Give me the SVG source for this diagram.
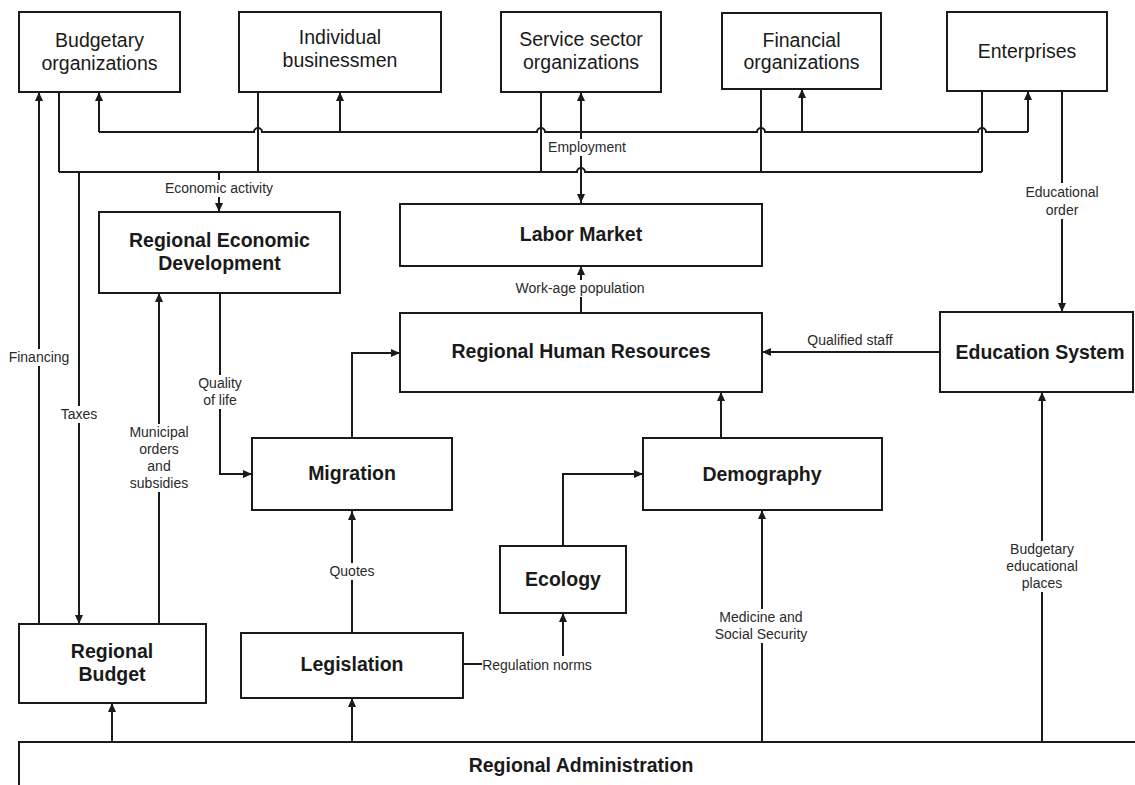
<svg xmlns="http://www.w3.org/2000/svg" width="1135" height="785" viewBox="0 0 1135 785">
<defs>
<marker id="arr" markerUnits="userSpaceOnUse" markerWidth="9" markerHeight="8" refX="9" refY="4" orient="auto-start-reverse" viewBox="0 0 9 8">
<path d="M0,0 L9,4 L0,8 z" fill="#1a1a1a"/>
</marker>
<style>
.box{fill:#fff;stroke:#1a1a1a;stroke-width:2}
.ln{fill:none;stroke:#1a1a1a;stroke-width:2}
.a{marker-end:url(#arr)}
.bg{fill:#fff}
.t{font-family:"Liberation Sans",Arial,sans-serif;font-size:19.5px;fill:#1a1a1a;text-anchor:middle}
.b{font-weight:bold}
.s{font-family:"Liberation Sans",Arial,sans-serif;font-size:14px;fill:#2a2a2a;text-anchor:middle}
</style>
</defs>
<rect width="1135" height="785" fill="#fff"/>

<g id="connectors">
<!-- upper distribution line with hops -->
<path class="ln" d="M99,132 H254 a4,4 0 0 1 8,0 H537 a4,4 0 0 1 8,0 H757 a4,4 0 0 1 8,0 H978 a4,4 0 0 1 8,0 H1028"/>
<path class="ln a" d="M99,132 V92"/>
<path class="ln a" d="M340,132 V92"/>
<path class="ln a" d="M802,132 V89"/>
<path class="ln a" d="M1028,132 V91"/>
<!-- employment double arrow -->
<path class="ln a" d="M581,203 V92" style="marker-start:url(#arr)"/>
<!-- lower collection line with hop -->
<path class="ln" d="M59,172 H577 a4,4 0 0 1 8,0 H982"/>
<path class="ln" d="M59,92 V172"/>
<path class="ln" d="M258,92 V172"/>
<path class="ln" d="M541,92 V172"/>
<path class="ln" d="M761,89 V172"/>
<path class="ln" d="M982,91 V172"/>
<path class="ln a" d="M219,172 V212"/>
<path class="ln a" d="M79,172 V624"/>
<!-- financing -->
<path class="ln a" d="M39,624 V92"/>
<!-- municipal orders -->
<path class="ln a" d="M159,624 V293"/>
<!-- quality of life -->
<path class="ln a" d="M220,293 V474 H252"/>
<!-- migration to RHR -->
<path class="ln a" d="M352,438 V353 H400"/>
<!-- quotes -->
<path class="ln a" d="M352,633 V511"/>
<!-- work-age -->
<path class="ln a" d="M581,313 V266"/>
<!-- educational order -->
<path class="ln a" d="M1062,91 V312"/>
<!-- qualified staff -->
<path class="ln a" d="M940,352 H762"/>
<!-- demography to RHR -->
<path class="ln a" d="M721,438 V392"/>
<!-- ecology to demography -->
<path class="ln a" d="M563,546 V474 H643"/>
<!-- regulation norms -->
<path class="ln a" d="M463,664 H563 V613"/>
<!-- medicine -->
<path class="ln a" d="M762,742 V510"/>
<!-- budgetary educational places -->
<path class="ln a" d="M1042,742 V392"/>
<!-- admin to budget / legislation -->
<path class="ln a" d="M112,742 V703"/>
<path class="ln a" d="M352,742 V698"/>

<rect class="bg" x="164" y="180" width="110" height="17"/>
<rect class="bg" x="548" y="139" width="78" height="17"/>
<rect class="bg" x="1022" y="183" width="80" height="36"/>
<rect class="bg" x="514" y="280" width="132" height="17"/>
<rect class="bg" x="8" y="349" width="62" height="17"/>
<rect class="bg" x="59" y="406" width="40" height="17"/>
<rect class="bg" x="196" y="375" width="48" height="34"/>
<rect class="bg" x="127" y="424" width="64" height="68"/>
<rect class="bg" x="327" y="563" width="50" height="17"/>
<rect class="bg" x="482" y="656" width="110" height="17"/>
<rect class="bg" x="713" y="609" width="98" height="34"/>
<rect class="bg" x="1004" y="541" width="76" height="51"/>

<text class="s" x="219" y="193">Economic activity</text>
<text class="s" x="587" y="152">Employment</text>
<text class="s" x="1062" y="197">Educational</text>
<text class="s" x="1062" y="215">order</text>
<text class="s" x="580" y="293">Work-age population</text>
<text class="s" x="850" y="345">Qualified staff</text>
<text class="s" x="39" y="362">Financing</text>
<text class="s" x="79" y="419">Taxes</text>
<text class="s" x="220" y="388">Quality</text>
<text class="s" x="220" y="405">of life</text>
<text class="s" x="159" y="437">Municipal</text>
<text class="s" x="159" y="454">orders</text>
<text class="s" x="159" y="471">and</text>
<text class="s" x="159" y="488">subsidies</text>
<text class="s" x="352" y="576">Quotes</text>
<text class="s" x="537" y="670">Regulation norms</text>
<text class="s" x="761" y="622">Medicine and</text>
<text class="s" x="761" y="639">Social Security</text>
<text class="s" x="1042" y="554">Budgetary</text>
<text class="s" x="1042" y="571">educational</text>
<text class="s" x="1042" y="588">places</text>
</g>

<g id="budgetary-organizations">
<rect class="box" x="19" y="12" width="161" height="80"/>
<text class="t" x="99.5" y="47">Budgetary</text>
<text class="t" x="99.5" y="70">organizations</text>
</g>
<g id="individual-businessmen">
<rect class="box" x="239" y="12" width="202" height="80"/>
<text class="t" x="340" y="44">Individual</text>
<text class="t" x="340" y="67">businessmen</text>
</g>
<g id="service-sector">
<rect class="box" x="501" y="12" width="160" height="80"/>
<text class="t" x="581" y="46">Service sector</text>
<text class="t" x="581" y="69">organizations</text>
</g>
<g id="financial-organizations">
<rect class="box" x="722" y="13" width="159" height="76"/>
<text class="t" x="801.5" y="47">Financial</text>
<text class="t" x="801.5" y="69">organizations</text>
</g>
<g id="enterprises">
<rect class="box" x="947" y="12" width="160" height="79"/>
<text class="t" x="1027" y="58">Enterprises</text>
</g>
<g id="regional-economic-development">
<rect class="box" x="99" y="212" width="241" height="81"/>
<text class="t b" x="219.5" y="247">Regional Economic</text>
<text class="t b" x="219.5" y="270">Development</text>
</g>
<g id="labor-market">
<rect class="box" x="400" y="204" width="362" height="62"/>
<text class="t b" x="581" y="241">Labor Market</text>
</g>
<g id="regional-human-resources">
<rect class="box" x="400" y="313" width="362" height="79"/>
<text class="t b" x="581" y="358">Regional Human Resources</text>
</g>
<g id="education-system">
<rect class="box" x="940" y="312" width="193" height="80"/>
<text class="t b" x="1040" y="359">Education System</text>
</g>
<g id="migration">
<rect class="box" x="252" y="438" width="200" height="72"/>
<text class="t b" x="352" y="480">Migration</text>
</g>
<g id="demography">
<rect class="box" x="643" y="438" width="239" height="72"/>
<text class="t b" x="762" y="481">Demography</text>
</g>
<g id="ecology">
<rect class="box" x="500" y="546" width="126" height="67"/>
<text class="t b" x="563" y="586">Ecology</text>
</g>
<g id="regional-budget">
<rect class="box" x="19" y="624" width="187" height="79"/>
<text class="t b" x="112" y="658">Regional</text>
<text class="t b" x="112" y="681">Budget</text>
</g>
<g id="legislation">
<rect class="box" x="241" y="633" width="222" height="65"/>
<text class="t b" x="352" y="671">Legislation</text>
</g>
<g id="regional-administration">
<rect class="box" x="19" y="742" width="1130" height="60"/>
<text class="t b" x="581" y="772">Regional Administration</text>
</g>
</svg>
